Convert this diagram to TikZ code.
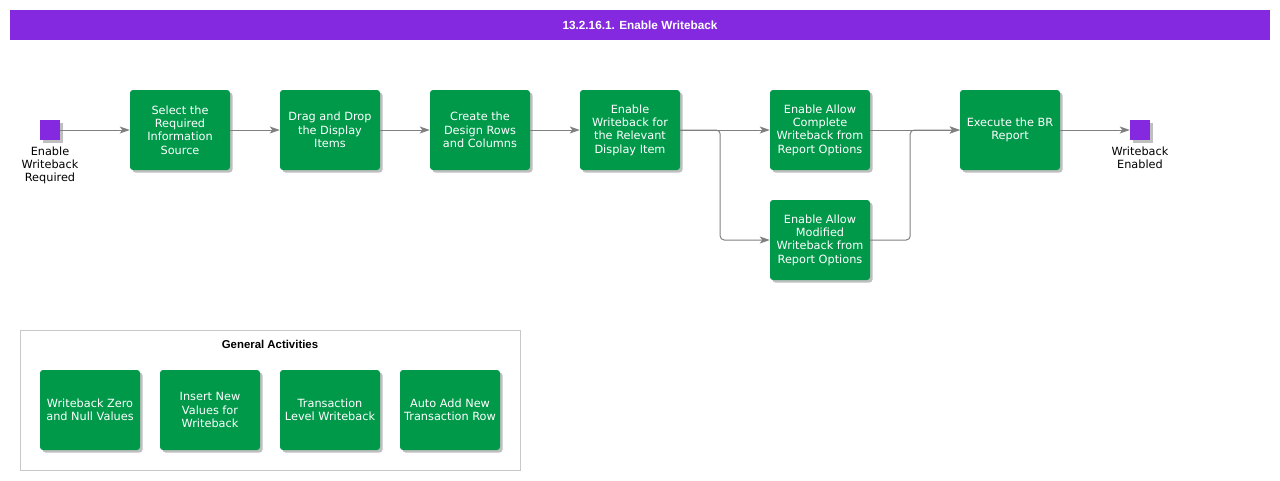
\documentclass[tikz,border=0pt]{standalone}
\usepackage{fontspec}
\setmainfont{DejaVu Sans}
\newfontfamily\arialfont{Liberation Sans}
\usetikzlibrary{shadows, arrows.meta}
\definecolor{barpurple}{RGB}{133,41,224}
\definecolor{actgreen}{RGB}{0,153,74}
\definecolor{linegray}{RGB}{128,128,128}
\definecolor{framegray}{RGB}{200,200,200}
\tikzset{>={Stealth[length=10pt, width=7pt, inset=2.5pt]}}
\tikzset{
  activity/.style={fill=actgreen, rounded corners=3pt, minimum width=100pt, minimum height=80pt,
    inner sep=1pt, text=white, align=center, font=\fontsize{11.3}{13.3}\selectfont,
    drop shadow={shadow xshift=2.5pt, shadow yshift=-2.5pt, fill=black, opacity=0.25}},
  event/.style={fill=barpurple, minimum size=20pt, inner sep=0pt,
    drop shadow={shadow xshift=2.5pt, shadow yshift=-2.5pt, fill=black, opacity=0.25}},
  evlabel/.style={align=center, inner sep=0pt, font=\fontsize{11.3}{13.3}\selectfont},
  flow/.style={->, draw=linegray, line width=1pt, rounded corners=4pt}
}

\begin{document}
\begin{tikzpicture}[x=1pt, y=-1pt]
\useasboundingbox (0,0) rectangle (1280,480);
% title bar
\fill[barpurple] (10,10) rectangle (1270,40);
\node[text=white, font=\arialfont\bfseries\fontsize{11.8}{13}\selectfont] (T) at (640,25) {13.2.16.1. Enable Writeback};
% main flow
\node[event] (St) at (50,130) {};
\node[evlabel, anchor=north] (StL) at (50,146.5) {Enable\\Writeback\\Required};
\node[activity] (A) at (180,130) {Select the\\Required\\Information\\Source};
\node[activity] (B) at (330,130) {Drag and Drop\\the Display\\Items};
\node[activity] (C) at (480,130) {Create the\\Design Rows\\and Columns};
\node[activity] (D) at (630,130) {Enable\\Writeback for\\the Relevant\\Display Item};
\node[activity] (E) at (820,130) {Enable Allow\\Complete\\Writeback from\\Report Options};
\node[activity] (F) at (820,240) {Enable Allow\\Modified\\Writeback from\\Report Options};
\node[activity] (G) at (1010,130) {Execute the BR\\Report};
\node[event] (En) at (1140,130) {};
\node[evlabel, anchor=north] (EnL) at (1140,146.5) {Writeback\\Enabled};
\draw[flow] (St) -- (A);
\draw[flow] (A) -- (B);
\draw[flow] (B) -- (C);
\draw[flow] (C) -- (D);
\draw[flow] (D) -- (E);
\draw[flow] (D.east) -- ([xshift=40pt]D.east) |- (F.west);
\draw[flow] (E) -- (G);
\draw[flow] (F.east) -- ([xshift=40pt]F.east) |- (G.west);
\draw[flow] (G) -- (En);
% general activities
\draw[framegray] (20,330) rectangle (520,470);
\node[font=\arialfont\bfseries\fontsize{11.4}{13}\selectfont] (GA) at (270,344) {General Activities};
\node[activity] (W1) at (90,410) {Writeback Zero\\and Null Values};
\node[activity] (W2) at (210,410) {Insert New\\Values for\\Writeback};
\node[activity] (W3) at (330,410) {Transaction\\Level Writeback};
\node[activity] (W4) at (450,410) {Auto Add New\\Transaction Row};
\end{tikzpicture}
\end{document}
